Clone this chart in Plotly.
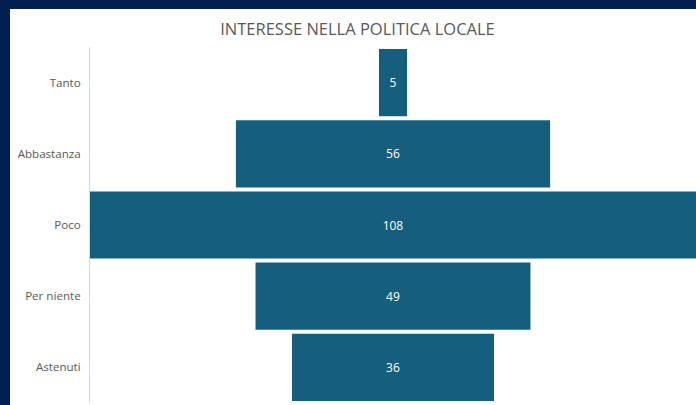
import plotly.graph_objects as go

categories = ["Tanto", "Abbastanza", "Poco", "Per niente", "Astenuti"]
values = [5, 56, 108, 49, 36]
title_text = "INTERESSE NELLA POLITICA LOCALE"

W, H = 696, 405
ML, MR, MT, MB = 90, 0, 47, 2
pw = W - ML - MR
ph = H - MT - MB

def px_x(px):
    return (px - ML) / pw

def px_y(py):
    return (H - MB - py) / ph

fig = go.Figure(go.Funnel(
    y=categories,
    x=values,
    marker=dict(color="#165E7E", line=dict(width=0)),
    connector=dict(visible=False),
    textposition="inside",
    textinfo="value",
    insidetextfont=dict(color="white", size=12, family="Open Sans"),
    hoverinfo="skip",
))

fig.update_layout(
    width=W, height=H,
    margin=dict(l=ML, r=MR, t=MT, b=MB),
    paper_bgcolor="#00204F",
    plot_bgcolor="white",
    funnelgap=0.056,
    showlegend=False,
    title=dict(text=title_text, x=357.5 / W, xref="container", xanchor="center",
               y=1 - 29 / H, yref="container", yanchor="middle",
               font=dict(family="Open Sans", size=16.5, color="#595959")),
    xaxis=dict(range=[-54, 54], visible=False, fixedrange=True),
    yaxis=dict(showline=True, linecolor="#D9D9D9", linewidth=1,
               ticks="", ticklabelstandoff=6,
               tickfont=dict(family="Open Sans", size=11.6, color="#595959"),
               showgrid=False, zeroline=False),
    shapes=[dict(type="rect", xref="paper", yref="paper", layer="below",
                 x0=px_x(10), x1=px_x(700), y0=px_y(410), y1=px_y(9),
                 fillcolor="white", line=dict(width=0))],
)

fig.write_html("out.html")
